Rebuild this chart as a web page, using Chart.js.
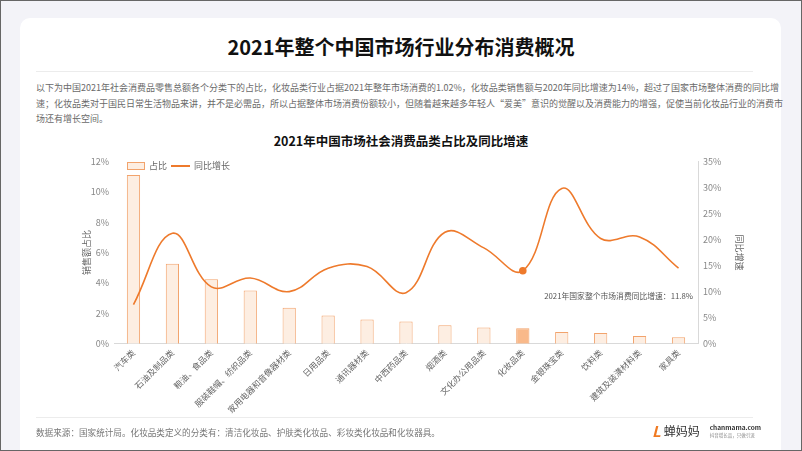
<!DOCTYPE html>
<html>
<head>
<meta charset="utf-8">
<script src="https://cdn.jsdelivr.net/npm/chart.js@4.4.1/dist/chart.umd.min.js"></script>
<style>
  html, body { margin: 0; padding: 0; }
  body {
    width: 800px; height: 449px; overflow: hidden; position: relative;
    background: #f3f3f8; border: 1px solid #666;
    font-family: "Noto Sans CJK SC", "Noto Sans", sans-serif;
  }
  .card {
    position: absolute; left: 19px; top: 17px; width: 761px; height: 460px;
    background: #fff; border-radius: 10px;
  }
  .title {
    position: absolute; left: 0; top: 28px; width: 800px; text-align: center;
    font-size: 20px; font-weight: bold; color: #111; line-height: 36px;
  }
  .sep { position: absolute; left: 35px; width: 717px; height: 1px; background: #ececec; }
  .para {
    position: absolute; left: 35px; top: 79px; width: 717px;
    font-size: 9px; color: #6a6a6a; line-height: 15.5px;
  }
  .para span { display: block; text-align: justify; text-align-last: justify; white-space: nowrap; }
  .para span.last { text-align-last: left; }
  .ctitle {
    position: absolute; left: 0; top: 130px; width: 800px; text-align: center;
    font-size: 12.5px; font-weight: bold; color: #111;
  }
  #wrap { position: absolute; left: 80px; top: 150px; width: 666px; height: 268px; }
  .legend { position: absolute; left: 126px; top: 158px; font-size: 9px; color: #666; display: flex; align-items: center; }
  .legend .box { width: 16px; height: 6px; background: #fdeee2; border: 1px solid #f2a36c; margin-right: 4px; }
  .legend .ln { width: 19px; height: 2px; background: #ee7a2c; margin: 0 4px 0 4px; }
  .note { position: absolute; right: 108px; top: 289px; font-size: 7.8px; color: #555; }
  .foot { position: absolute; left: 35px; top: 425px; font-size: 8.6px; color: #777; }
  .logo { position: absolute; left: 651px; top: 419px; display: flex; align-items: center; }
  .logo .mark { color: #f07a22; font-weight: bold; font-size: 15px; font-style: italic; margin-right: 3px; }
  .logo .name { font-size: 12px; color: #333; margin-right: 10px; }
  .logo .url { font-size: 6.5px; color: #333; font-weight: bold; line-height: 8px; }
  .logo .url small { display: block; font-size: 4.5px; color: #888; font-weight: normal; }
</style>
</head>
<body>
<div class="card"></div>
<div class="title">2021年整个中国市场行业分布消费概况</div>
<div class="sep" style="top:70px"></div>
<div class="para">
  <span>以下为中国2021年社会消费品零售总额各个分类下的占比，化妆品类行业占据2021年整年市场消费的1.02%，化妆品类销售额与2020年同比增速为14%，超过了国家市场整体消费的同比增</span>
  <span>速；化妆品类对于国民日常生活物品来讲，并不是必需品，所以占据整体市场消费份额较小，但随着越来越多年轻人“爱美”意识的觉醒以及消费能力的增强，促使当前化妆品行业的消费市</span>
  <span class="last">场还有增长空间。</span>
</div>
<div class="ctitle">2021年中国市场社会消费品类占比及同比增速</div>
<div id="wrap"><canvas id="mixChart"></canvas></div>
<div class="legend"><div class="box"></div>占比<div class="ln"></div>同比增长</div>
<div class="note">2021年国家整个市场消费同比增速：11.8%</div>
<div class="sep" style="top:416px"></div>
<div class="foot">数据来源：国家统计局。化妆品类定义的分类有：清洁化妆品、护肤类化妆品、彩妆类化妆品和化妆器具。</div>
<div class="logo"><span class="mark">L</span><span class="name">蝉妈妈</span><span class="url">chanmama.com<small>抖音增长品，只做引流</small></span></div>

<script>
const categories = ['汽车类', '石油及制品类', '粮油、食品类', '服装鞋帽、纺织品类', '家用电器和音像器材类',
  '日用品类', '通讯器材类', '中西药品类', '烟酒类', '文化办公用品类', '化妆品类', '金银珠宝类',
  '饮料类', '建筑及装潢材料类', '家具类'];
const shareValues = [11.1, 5.27, 4.24, 3.5, 2.37, 1.86, 1.6, 1.46, 1.21, 1.06, 1.02, 0.77, 0.7, 0.5, 0.42];
const growthValues = [7.5, 21.2, 10.9, 12.6, 10.0, 14.5, 14.8, 9.8, 21.4, 18.4, 14.0, 29.8, 20.2, 20.5, 14.5];
const highlightIndex = 10;

window.addEventListener('DOMContentLoaded', () => {
  const ctx = document.getElementById('mixChart');
  const tickFont = { size: 9, family: '"Noto Sans CJK SC", sans-serif' };

  new Chart(ctx, {
    data: {
      labels: categories,
      datasets: [
        {
          type: 'line',
          label: '同比增长',
          data: growthValues,
          yAxisID: 'y1',
          borderColor: '#ee7a2c',
          backgroundColor: '#ee7a2c',
          borderWidth: 1.6,
          tension: 0.4,
          pointRadius: growthValues.map((v, i) => i === highlightIndex ? 3 : 0),
          order: 0
        },
        {
          type: 'bar',
          label: '占比',
          data: shareValues,
          yAxisID: 'y',
          backgroundColor: shareValues.map((v, i) => i === highlightIndex ? '#f9b98a' : '#fdeee2'),
          borderColor: '#f2a36c',
          borderWidth: 1,
          categoryPercentage: 1,
          barPercentage: 0.34,
          order: 1
        }
      ]
    },
    options: {
      responsive: true,
      maintainAspectRatio: false,
      animation: false,
      layout: { padding: { top: 4, right: 0, bottom: 0, left: 0 } },
      plugins: { legend: { display: false }, tooltip: { enabled: false } },
      scales: {
        x: {
          grid: { display: false, drawTicks: false },
          border: { color: '#d9d9d9' },
          ticks: { color: '#666', font: { size: 8.5, family: tickFont.family }, maxRotation: 45, minRotation: 45, autoSkip: false, padding: 4 }
        },
        y: {
          position: 'left',
          min: 0, max: 12,
          grid: { display: false, drawTicks: false },
          border: { display: false },
          ticks: { stepSize: 2, color: '#888', font: tickFont, padding: 5, callback: v => v + '%' },
          title: { display: true, text: '销售额占比', color: '#666', font: tickFont, padding: 0 },
          afterFit: s => { s.width = 33; }
        },
        y1: {
          position: 'right',
          min: 0, max: 35,
          grid: { display: false, drawTicks: false },
          border: { color: '#d9d9d9' },
          ticks: { stepSize: 5, color: '#888', font: tickFont, padding: 5, callback: v => v + '%' },
          title: { display: true, text: '同比增速', color: '#666', font: tickFont, padding: 2 },
          afterFit: s => { s.width = 49; }
        }
      }
    }
  });
});
</script>
</body>
</html>
